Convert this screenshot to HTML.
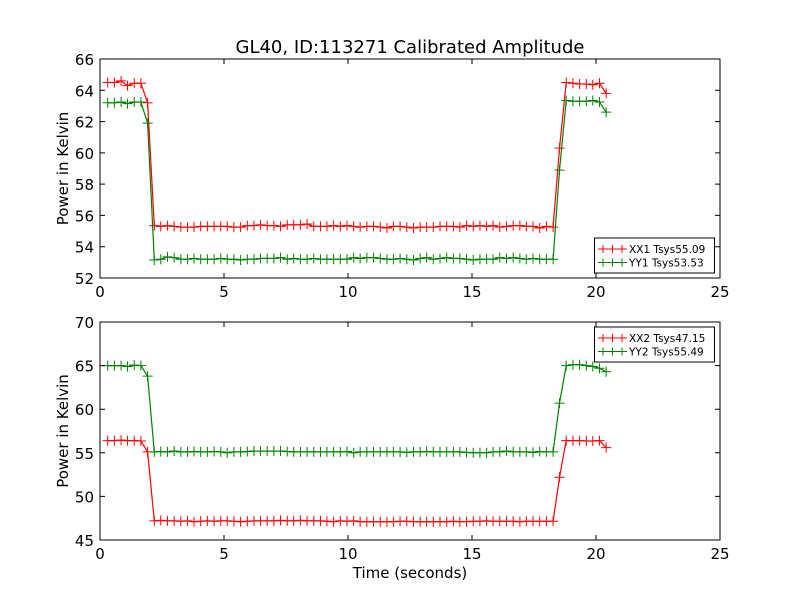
<!DOCTYPE html>
<html><head><meta charset="utf-8"><style>
body{margin:0;background:#fff;}
svg text{font-family:"DejaVu Sans","Liberation Sans",sans-serif;fill:#000;}
</style></head><body>
<svg id="c" width="800" height="600" xmlns="http://www.w3.org/2000/svg">
<rect width="800" height="600" fill="#fff"/>
<text x="410" y="53" font-size="18" text-anchor="middle">GL40, ID:113271 Calibrated Amplitude</text>
</svg>
<script>
const times=[0.31,0.58,0.85,1.11,1.38,1.65,1.92,2.19,2.45,2.72,2.99,3.26,3.53,3.79,4.06,4.33,4.60,4.87,5.13,5.40,5.67,5.94,6.21,6.47,6.74,7.01,7.28,7.55,7.81,8.08,8.35,8.62,8.89,9.15,9.42,9.69,9.96,10.23,10.49,10.76,11.03,11.30,11.57,11.83,12.10,12.37,12.64,12.91,13.17,13.44,13.71,13.98,14.25,14.51,14.78,15.05,15.32,15.59,15.85,16.12,16.39,16.66,16.93,17.19,17.46,17.73,18.00,18.27,18.53,18.80,19.07,19.34,19.61,19.87,20.14,20.41];
const xx1=[64.5,64.5,64.6,64.3,64.45,64.45,63.2,
55.35,55.3,55.35,55.3,55.25,55.25,55.25,55.3,55.3,55.3,
55.3,55.3,55.25,55.25,55.35,55.35,55.4,55.35,55.35,55.3,
55.4,55.4,55.4,55.45,55.3,55.3,55.3,55.35,55.3,55.35,
55.3,55.25,55.3,55.3,55.25,55.2,55.3,55.3,55.25,55.2,
55.25,55.25,55.25,55.3,55.3,55.3,55.25,55.35,55.3,55.35,
55.3,55.35,55.25,55.3,55.35,55.35,55.3,55.3,55.2,55.3,55.25,
60.3,64.5,64.45,64.4,64.4,64.35,64.45,63.8];
const yy1=[63.2,63.2,63.25,63.15,63.25,63.25,61.9,
53.15,53.2,53.35,53.3,53.2,53.2,53.25,53.2,53.2,53.2,
53.25,53.2,53.2,53.15,53.2,53.2,53.25,53.25,53.25,53.3,
53.2,53.25,53.2,53.2,53.25,53.2,53.2,53.2,53.2,53.2,
53.3,53.25,53.3,53.3,53.25,53.2,53.2,53.25,53.2,53.15,
53.25,53.3,53.2,53.25,53.3,53.25,53.25,53.2,53.15,53.2,
53.2,53.2,53.3,53.25,53.3,53.25,53.2,53.25,53.2,53.2,53.2,
58.9,63.35,63.3,63.3,63.3,63.35,63.25,62.6];
const xx2=[56.4,56.4,56.45,56.4,56.4,56.35,55.1,
47.2,47.25,47.2,47.2,47.15,47.2,47.1,47.15,47.2,47.15,
47.2,47.2,47.15,47.1,47.15,47.2,47.2,47.2,47.2,47.25,
47.2,47.2,47.25,47.2,47.2,47.2,47.15,47.1,47.2,47.15,
47.2,47.1,47.1,47.1,47.1,47.1,47.1,47.15,47.15,47.1,
47.1,47.1,47.1,47.1,47.1,47.15,47.1,47.1,47.15,47.15,
47.2,47.15,47.15,47.15,47.15,47.1,47.15,47.15,47.15,47.15,47.15,
52.2,56.4,56.4,56.4,56.35,56.35,56.4,55.6];
const yy2=[65.0,65.0,65.0,64.9,65.05,65.0,63.8,
55.1,55.15,55.1,55.2,55.1,55.1,55.15,55.1,55.1,55.15,
55.1,55.0,55.1,55.1,55.15,55.2,55.2,55.2,55.2,55.2,
55.15,55.1,55.1,55.1,55.1,55.1,55.1,55.1,55.1,55.15,
55.0,55.1,55.1,55.1,55.1,55.1,55.1,55.1,55.05,55.1,
55.1,55.15,55.1,55.1,55.1,55.1,55.1,55.05,55.0,55.0,
55.0,55.1,55.1,55.2,55.1,55.1,55.1,55.05,55.15,55.1,55.1,
60.7,65.0,65.1,65.1,65.0,64.9,64.7,64.3];
const xTicks=[0,5,10,15,20,25];
const yTicksTop=[52,54,56,58,60,62,64,66];
const yTicksBot=[45,50,55,60,65,70];
const legTop=["XX1 Tsys55.09","YY1 Tsys53.53"];
const legBot=["XX2 Tsys47.15","YY2 Tsys55.49"];

const svg=document.getElementById('c');
const NS='http://www.w3.org/2000/svg';
function mk(tag,attrs,parent){const e=document.createElementNS(NS,tag);for(const k in attrs)e.setAttribute(k,attrs[k]);(parent||svg).appendChild(e);return e;}
const L=100,R=720;
function panel(id,top,bot,ymin,ymax,yt,s1,s2,leg,legY){
  const g=mk('g',{});
  
  
  const X=v=>L+(v-0)/(25-0)*(R-L);
  const Y=v=>bot-(v-ymin)/(ymax-ymin)*(bot-top);
  const series=[[s1,'#ff0000','xx'],[s2,'#008000','yy']];
  series.forEach(([d,col,nm])=>{
    const pts=times.map((t,i)=>X(t).toFixed(1)+','+Y(d[i]).toFixed(1)).join(' ');
    const pl=mk('polyline',{points:pts,fill:'none',stroke:col,'stroke-width':1.2},g);
    
    
    times.forEach((t,i)=>{
      const x=X(t),y=Y(d[i]);
      const m=mk('path',{d:`M${x-5},${y}H${x+5}M${x},${y-5}V${y+5}`,stroke:col,'stroke-width':1},g);
      
      
    });
  });
  const fr=mk('rect',{x:L,y:top,width:R-L,height:bot-top,fill:'none',stroke:'#000','stroke-width':1},g);
  
  
  xTicks.forEach(v=>{
    const x=X(v);
    mk('path',{d:`M${x},${bot}V${bot-5}M${x},${top}V${top+5}`,stroke:'#000'},g);
    const t=mk('text',{x:x,y:bot+19,'font-size':15,'text-anchor':'middle'},g);
    
    
    t.textContent=v;
  });
  yt.forEach(v=>{
    const y=Y(v);
    mk('path',{d:`M${L},${y}H${L+5}M${R},${y}H${R-5}`,stroke:'#000'},g);
    const t=mk('text',{x:L-6,y:y+6,'font-size':15,'text-anchor':'end'},g);
    
    
    t.textContent=v;
  });
  const yl=mk('text',{x:0,y:0,'font-size':15,'text-anchor':'middle',transform:`translate(68,${(top+bot)/2}) rotate(-90)`},g);
  
  
  yl.textContent='Power in Kelvin';
  const lg=mk('g',{},g);
  
  
  mk('rect',{x:594.5,y:legY,width:120,height:35,fill:'#fff',stroke:'#000','stroke-width':1},lg);
  leg.forEach((s,i)=>{
    const y=legY+11+i*13.5, col=i?'#008000':'#ff0000';
    const e=mk('g',{},lg);
    
    
    mk('path',{d:`M598,${y}H627M603,${y-4}V${y+4}M612.5,${y-4}V${y+4}M622,${y-4}V${y+4}`,stroke:col,'stroke-width':1},e);
    const t=mk('text',{x:629,y:y+4,'font-size':10.5},e);
    t.textContent=s;
  });
}
panel('top-panel',59,278,52,66,yTicksTop,xx1,yy1,legTop,238);
panel('bottom-panel',322,540,45,70,yTicksBot,xx2,yy2,legBot,327);
const xl=mk('text',{x:410,y:578,'font-size':15,'text-anchor':'middle'});


xl.textContent='Time (seconds)';
</script>
</body></html>
